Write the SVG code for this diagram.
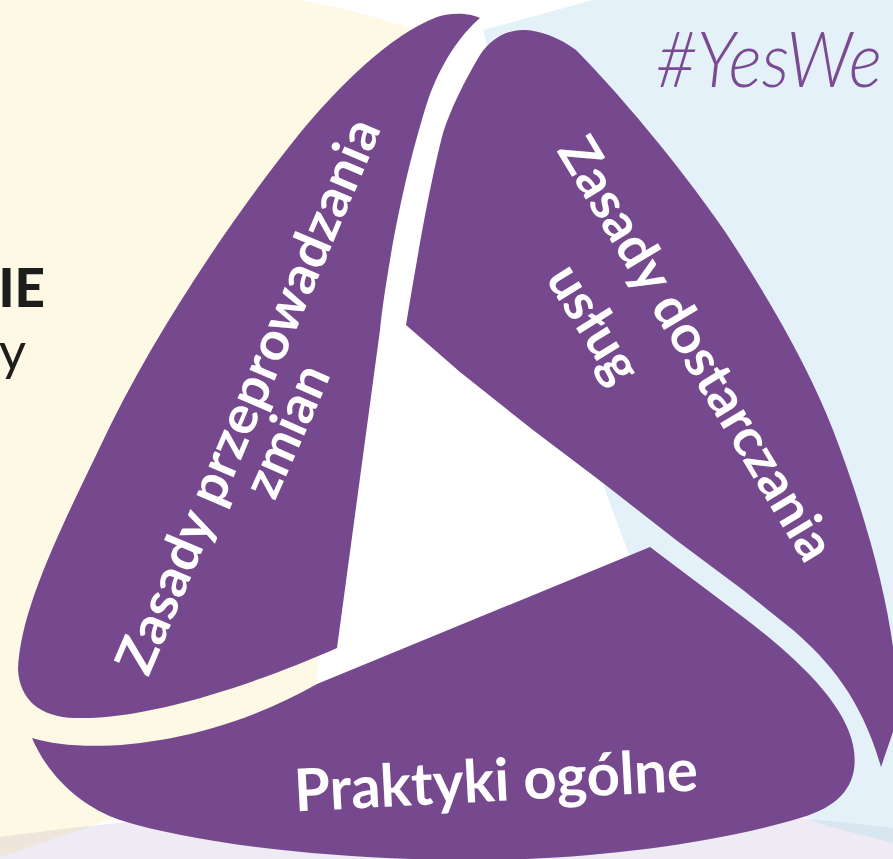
<svg xmlns="http://www.w3.org/2000/svg" width="893" height="859" viewBox="0 0 893 859">
  <style>
    .petal { fill: #76488D; }
    .label { fill: #FFFFFF; font-family: Lato, "Open Sans", "Liberation Sans", sans-serif; font-weight: 700; text-anchor: middle; }
    .side { fill: #1D1D1B; font-family: Lato, "Open Sans", "Liberation Sans", sans-serif; text-anchor: end; }
  </style>
  <defs>
    <path id="creamShape" d="M0,0 L300,0 Q355,10 407,27 L418,45 L398,100 L368,250 L352,450 L330,620 L318,660 C316,690 315,720 314,740 C300,780 220,800 115,818 L0,857 Z"/>
    <path id="blueShape" d="M593,0 L893,0 L893,843 L820,824 C740,790 660,650 630,557 C620,530 610,505 603,483 C560,380 495,200 487,45 L483,30 Z"/>
    <path id="lavShape" d="M0,837 Q460,775 893,828 L893,859 L0,859 Z"/>
    <clipPath id="clipCream"><use href="#creamShape"/></clipPath>
    <clipPath id="clipBlue"><use href="#blueShape"/></clipPath>
  </defs>

  <g id="background">
    <rect x="0" y="0" width="893" height="859" fill="#FFFFFF"/>
    <use href="#creamShape" fill="#FEF9E5"/>
    <use href="#blueShape" fill="#E4F1F8"/>
    <use href="#lavShape" fill="#EFEBF4"/>
    <use href="#lavShape" fill="#EEE6DA" clip-path="url(#clipCream)"/>
    <use href="#lavShape" fill="#D9E5EF" clip-path="url(#clipBlue)"/>
  </g>

  <g id="side-texts">
    <text class="side" x="45" y="307" font-size="53" font-weight="900">IE</text>
    <text class="side" x="26" y="370" font-size="53" font-weight="400" fill="#2A2928">y</text>
    <text transform="translate(656,87) scale(0.9,1)" x="0" y="0" font-family="Lato, 'Open Sans', 'Liberation Sans', sans-serif" font-style="italic" font-weight="300" font-size="78" fill="#7A4B93">#YesWe</text>
  </g>

  <g id="node-zasady-zmian">
    <path class="petal" d="M480,18 C460,35 440,65 428,100 C415,140 400,200 390,260 C385,290 382,310 380,330 L337,648 C260,682 150,720 75,718 C40,717 20,700 18,670 C20,610 60,530 100,447 C150,340 230,220 300,133 C340,85 390,35 437,17 C452,12 470,13 480,18 Z"/>
    <text class="label" font-size="53" transform="translate(265,403) rotate(-67)" textLength="597" lengthAdjust="spacingAndGlyphs">Zasady przeprowadzania</text>
    <text class="label" font-size="53" transform="translate(303,438) rotate(-66)">zmian</text>
  </g>

  <g id="node-zasady-uslug">
    <path class="petal" d="M523,30 C505,30 490,40 480,55 C465,80 450,110 443,133 C432,175 420,240 406,325 L460,372 L533,430 L603,483 L676,540 L743,590 L793,630 C830,662 862,700 881,767 L896,723 L896,660 L893,647 C884,580 860,500 833,430 C810,370 770,300 726,233 C690,180 630,105 576,50 C560,38 540,30 523,30 Z"/>
    <text class="label" font-size="53" transform="translate(681,358) rotate(59)" textLength="484" lengthAdjust="spacingAndGlyphs">Zasady dostarczania</text>
    <text class="label" font-size="53" transform="translate(579,333) rotate(58)">usług</text>
  </g>

  <g id="node-praktyki">
    <path class="petal" d="M32,738 C90,756 210,745 317,684 L650,547 L743,617 C800,660 845,705 853,745 C860,780 845,805 800,818 C700,848 560,862 450,860 C330,858 200,845 120,820 C85,808 50,780 32,738 Z"/>
    <text class="label" font-size="59" transform="translate(497,801) rotate(-3)" textLength="404" lengthAdjust="spacingAndGlyphs">Praktyki ogólne</text>
  </g>

  <g id="connectors"/>
</svg>
